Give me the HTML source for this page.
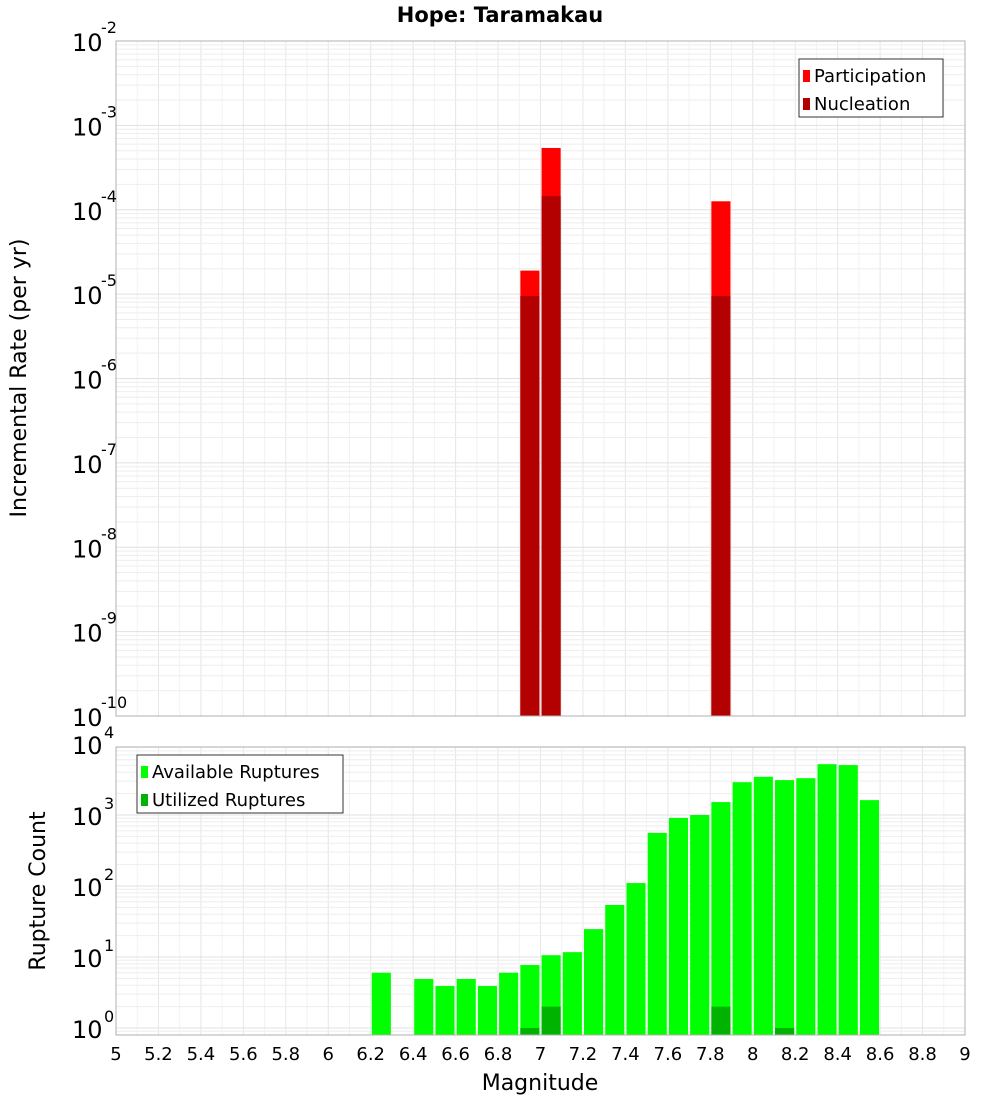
<!DOCTYPE html>
<html><head><meta charset="utf-8"><style>
body{margin:0;background:#fff;font-family:"DejaVu Sans","Liberation Sans",sans-serif}
svg{display:block}
</style></head><body>
<svg id="c" width="1000" height="1100" xmlns="http://www.w3.org/2000/svg"></svg>
<script>
const binCenters=[6.95,7.05,7.85];
const participation=[1.9e-5,5.4e-4,1.26e-4];
const nucleation=[9.5e-6,1.45e-4,9.5e-6];
const countBins=[6.25,6.45,6.55,6.65,6.75,6.85,6.95,7.05,7.15,7.25,7.35,7.45,7.55,7.65,7.75,7.85,7.95,8.05,8.15,8.25,8.35,8.45,8.55];
const available=[6,4.9,3.9,4.9,3.9,6,7.7,10.6,11.7,24.7,54,110,560,910,1000,1520,2900,3450,3100,3300,5200,5050,1620];
const utilBins=[6.95,7.05,7.85,8.15];
const utilized=[1,2,2,1];
const xTicks=["5","5.2","5.4","5.6","5.8","6","6.2","6.4","6.6","6.8","7","7.2","7.4","7.6","7.8","8","8.2","8.4","8.6","8.8","9"];
const topExp=[-2,-3,-4,-5,-6,-7,-8,-9,-10];
const botExp=[0,1,2,3,4];

const NS="http://www.w3.org/2000/svg";
const svg=document.getElementById('c');
function mk(t,a,p){const e=document.createElementNS(NS,t);for(const k in a)e.setAttribute(k,a[k]);(p||svg).appendChild(e);return e;}
const L=116,R=965;
const X=v=>L+(v-5)/4*(R-L);
const T1=41,B1=716;
const Y1=v=>T1+(-2-Math.log10(v))/8*(B1-T1);
const B2=1035,dec=71,y0=1028;
const Y2=v=>y0-Math.log10(v)*dec;
const T2=747;

function grid(top,bot,yf,lo,hi){
  const g=mk('g',{});
  
  
  for(let i=0;i<=40;i++){const x=X(5+i*0.1);mk('line',{x1:x,x2:x,y1:top,y2:bot,stroke:i%2?'#f2f2f2':'#e6e6e6','stroke-width':1},g);}
  for(let e=lo;e<hi;e++)for(let m=1;m<10;m++){const y=yf(m*Math.pow(10,e));if(y<top||y>bot)continue;mk('line',{x1:L,x2:R,y1:y,y2:y,stroke:m==1?'#e0e0e0':'#eeeeee','stroke-width':1},g);}
}
grid(T1,B1,Y1,-10,-2);
grid(T2,B2,Y2,-1,4);

function bar(c,v,yf,bot,fill,name){
  const y=yf(v);
  const r=mk('rect',{x:X(c-0.045),y:y,width:X(c+0.045)-X(c-0.045),height:bot-y,fill:fill});
  
  
}
binCenters.forEach((c,i)=>bar(c,participation[i],Y1,B1,'#ff0000','participation-bar'));
binCenters.forEach((c,i)=>bar(c,nucleation[i],Y1,B1,'#b30000','nucleation-bar'));
countBins.forEach((c,i)=>bar(c,available[i],Y2,B2,'#00ff00','available-bar'));
utilBins.forEach((c,i)=>bar(c,utilized[i],Y2,B2,'#00b300','utilized-bar'));

mk('rect',{x:L,y:T1,width:R-L,height:B1-T1,fill:'none',stroke:'#b0b0b0'});
mk('rect',{x:L,y:T2,width:R-L,height:B2-T2,fill:'none',stroke:'#b0b0b0'});

function txt(x,y,s,size,anchor,name,extra){
  const t=mk('text',Object.assign({x:x,y:y,'font-size':size,'text-anchor':anchor||'start',fill:'#000'},extra||{}));
  t.textContent=s;
  
  
  return t;
}
txt(500,22,'Hope: Taramakau',21,'middle','chart-title',{'font-weight':'bold'});
topExp.forEach(e=>{const y=Y1(Math.pow(10,e));txt(72,y+10,'10',24,'start','y-tick-top');txt(101,y-8,String(e),16,'start','y-tick-top-exp');});
botExp.forEach(e=>{const y=Y2(Math.pow(10,e));txt(72,y+10,'10',24,'start','y-tick-bottom');txt(104,y-6,String(e),16,'start','y-tick-bottom-exp');});
xTicks.forEach(s=>txt(X(parseFloat(s)),1060,s,18,'middle','x-tick'));
txt(540,1090,'Magnitude',22,'middle','x-axis-title');
txt(26,378,'Incremental Rate (per yr)',22,'middle','y-axis-title-top',{transform:'rotate(-90 26 378)'});
txt(45,891,'Rupture Count',22,'middle','y-axis-title-bottom',{transform:'rotate(-90 45 891)'});

function legend(x,y,w,items,name){
  const g=mk('g',{});
  
  
  mk('rect',{x:x,y:y,width:w,height:58,fill:'#fff',stroke:'#333'},g);
  items.forEach((it,i)=>{
    mk('rect',{x:x+4,y:y+11+i*28,width:7,height:12,fill:it[1]},g);
    const t=mk('text',{x:x+15,y:y+23+i*28,'font-size':18,fill:'#000'},g);t.textContent=it[0];
  });
}
legend(799,59,144,[['Participation','#ff0000'],['Nucleation','#b30000']],'legend-top');
legend(137,755,206,[['Available Ruptures','#00ff00'],['Utilized Ruptures','#00b300']],'legend-bottom');
</script>
</body></html>
